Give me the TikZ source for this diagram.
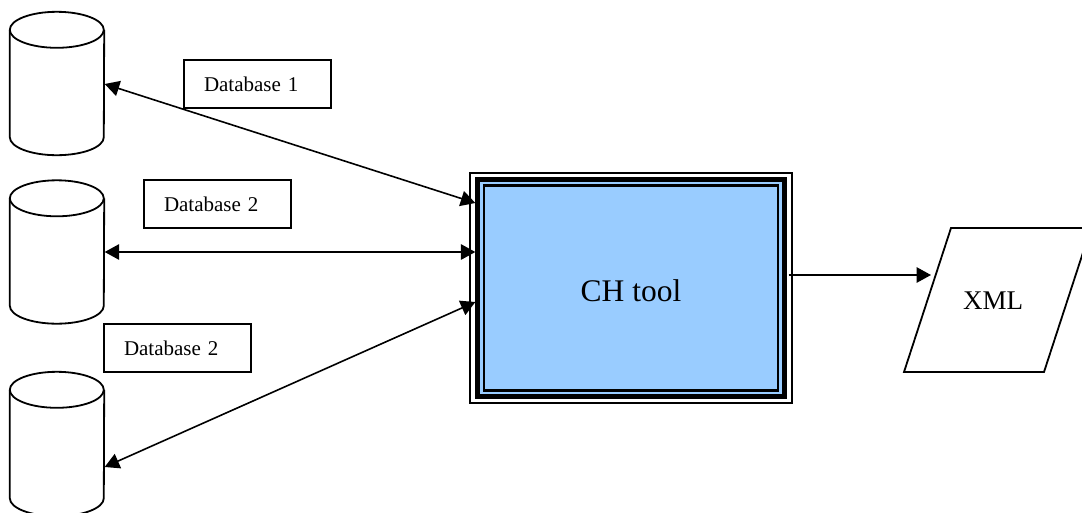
\documentclass[tikz,border=0pt]{standalone}
\usepackage{fontspec}
\setmainfont{Liberation Serif}
\usetikzlibrary{calc,arrows.meta}
\definecolor{chblue}{HTML}{99CCFF}
\tikzset{
  x=1pt,y=-1pt,
  shapeline/.style={draw=black,line width=1.8pt},
  cylbox/.style={inner sep=0pt,minimum width=94pt,minimum height=143pt},
  labelbox/.style={draw=black,line width=1.6pt,fill=white,inner xsep=20pt,inner ysep=0pt,text width=107pt,align=left,minimum height=48pt,font=\fontsize{21pt}{24pt}\selectfont},
  link/.style={draw=black,line width=1.6pt},
  tip/.style={-{Triangle[length=14.5pt,width=15.5pt]}},
  bitip/.style={{Triangle[length=14.5pt,width=15.5pt]}-{Triangle[length=14.5pt,width=15.5pt]}},
}
\newcommand{\cyl}[1]{%
  \draw[shapeline] (#1.north west)++(0,18) arc[start angle=180,end angle=540,x radius=47,y radius=-18];
  \draw[shapeline] (#1.north west)++(0,18) -- ($(#1.south west)+(0,-18)$) arc[start angle=180,end angle=360,x radius=47,y radius=-18] -- ($(#1.north east)+(0,18)$);
}
\begin{document}
\begin{tikzpicture}
\useasboundingbox (0,0) rectangle (1082,512);
% cylinders
\node[cylbox] (db1) at (57,83.5) {};
\node[cylbox] (db2) at (57,252) {};
\node[cylbox,minimum height=144pt] (db3) at (57,444) {};
\cyl{db1}\cyl{db2}\cyl{db3}
% CH tool frame
\node[inner sep=0pt,minimum width=321.5pt,minimum height=230pt,draw=black,line width=1.8pt,fill=white] (ch) at (631,288) {};
\node[inner sep=0pt,minimum width=307pt,minimum height=217pt,draw=black,line width=5.3pt,fill=chblue] (chmid) at (631,288) {};
\node[inner sep=0pt,minimum width=294pt,minimum height=205pt,draw=black,line width=2.2pt,fill=chblue] (chin) at (631,288) {};
\node[inner sep=0pt,font=\fontsize{31.5pt}{36pt}\selectfont] (chlabel) at (631,291) {CH tool};
% XML
\coordinate (p1) at (951,228);
\coordinate (p2) at (1091,228);
\coordinate (p3) at (1044,372);
\coordinate (p4) at (904,372);
\coordinate (xmlin) at (931,275);
\draw[shapeline] (p1) -- (p2) -- (p3) -- (p4) -- cycle;
\node[inner sep=0pt,font=\fontsize{27pt}{31pt}\selectfont] (xml) at (993,301) {XML};
% connectors
\draw[link,bitip] ($(db1.east)+(0.5,0.5)$) -- ($(ch.west)+(6,-85)$);
\draw[link,bitip] ($(db2.east)+(0.5,0)$) -- ($(ch.west)+(6,-36)$);
\draw[link,bitip] ($(db3.east)+(0.5,23)$) -- ($(ch.west)+(6,14)$);
\draw[link,tip] ($(ch.east)+(-4,-13)$) -- (xmlin);
% labels
\node[labelbox] (l1) at (257.5,84) {Database 1};
\node[labelbox] (l2) at (217.5,204) {Database 2};
\node[labelbox] (l3) at (177.5,348) {Database 2};
\end{tikzpicture}
\end{document}
